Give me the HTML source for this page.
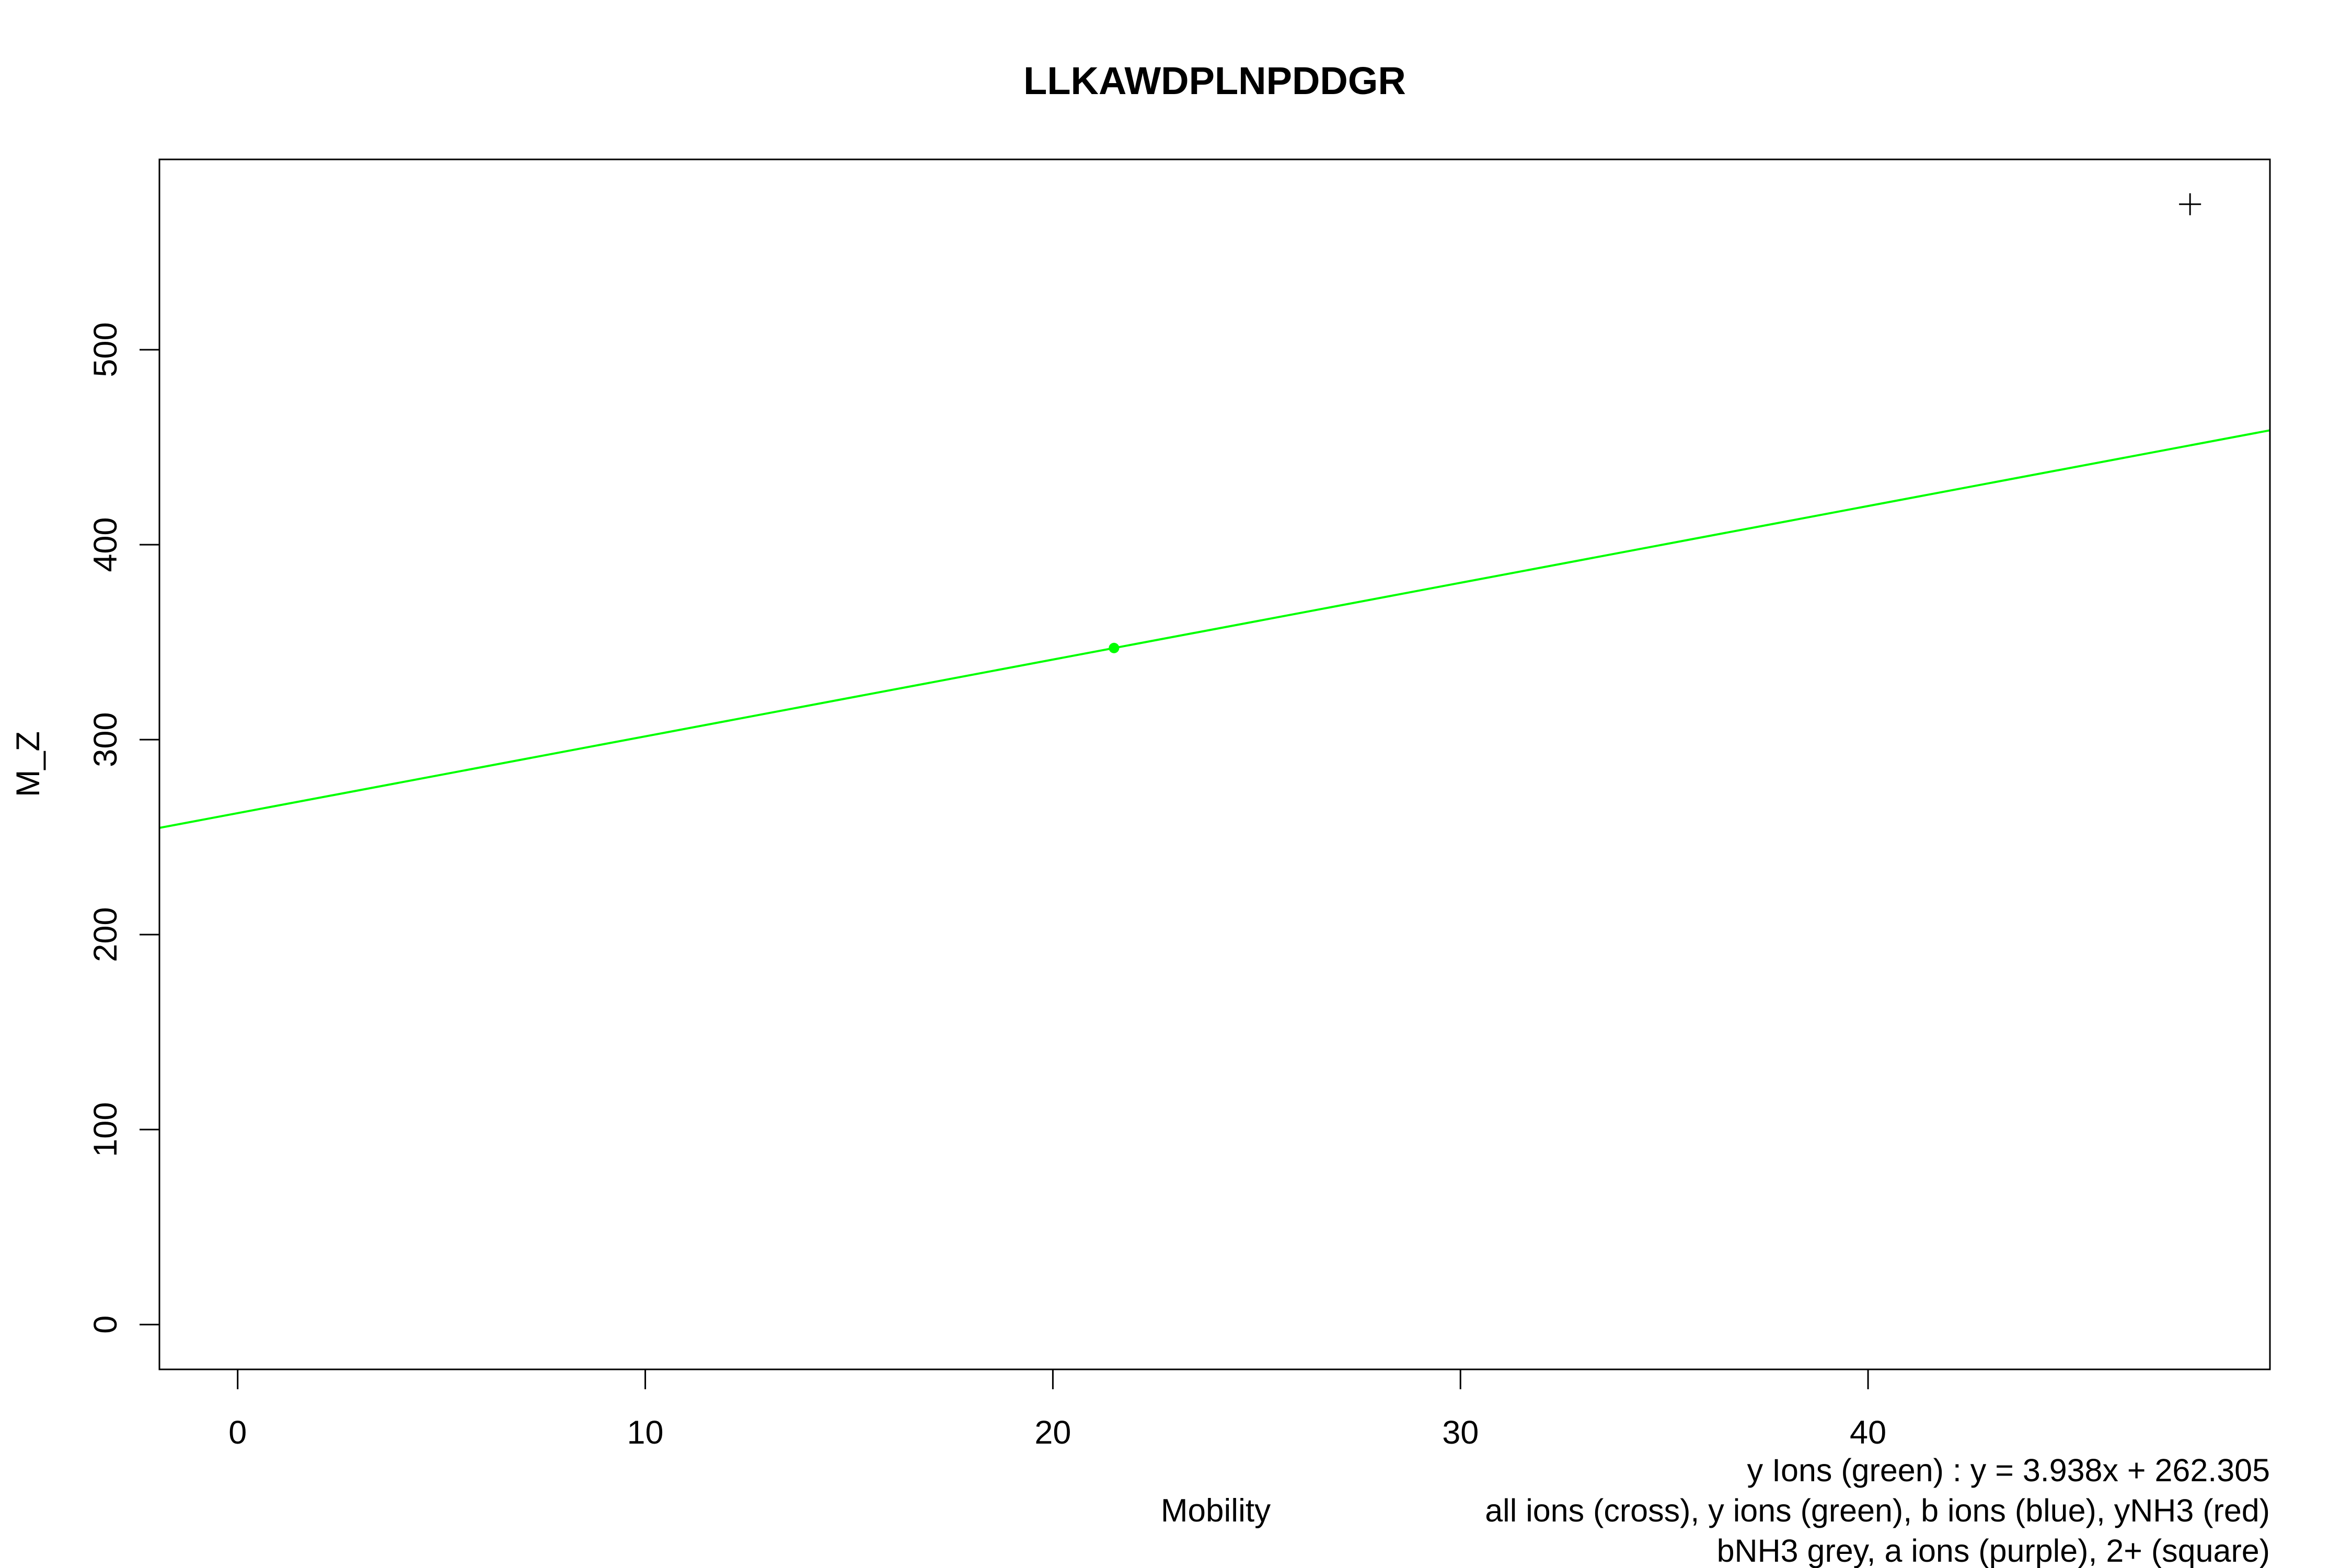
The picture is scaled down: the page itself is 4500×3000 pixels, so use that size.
<!DOCTYPE html>
<html><head><meta charset="utf-8"><style>
html,body{margin:0;padding:0;background:#fff;}
svg{display:block;font-family:"Liberation Sans",Arial,sans-serif;}
</style></head><body>
<svg id="chart" width="4500" height="3000" viewBox="0 0 4500 3000" xmlns="http://www.w3.org/2000/svg">
<rect width="4500" height="3000" fill="#fff"/>
<text x="2324" y="180" text-anchor="middle" font-size="74" font-weight="bold">LLKAWDPLNPDDGR</text>
<g id="marks"></g>
<rect x="305" y="305" width="4038" height="2315" fill="none" stroke="#000" stroke-width="3"/>
<g id="xaxis"></g>
<g id="yaxis"></g>
<text x="2326" y="2911" text-anchor="middle" font-size="62">Mobility</text>
<text transform="translate(75,1462) rotate(-90)" text-anchor="middle" font-size="63">M_Z</text>
<text x="4343" y="2834" text-anchor="end" font-size="61">y Ions (green) : y = 3.938x + 262.305</text>
<text x="4343" y="2911" text-anchor="end" font-size="61">all ions (cross), y ions (green), b ions (blue), yNH3 (red)</text>
<text x="4343" y="2988" text-anchor="end" font-size="61">bNH3 grey, a ions (purple), 2+ (square)</text>
</svg>
<script>
const xTicks = [0, 10, 20, 30, 40];
const yTicks = [0, 100, 200, 300, 400, 500];
const allIonsX = [47.9];
const allIonsY = [574.6];
const yIonsX = [21.5];
const yIonsY = [347.0];
const fitSlope = [3.938];
const fitIntercept = [262.305];
const xDomain = [-1.92, 49.86];
const yDomain = [-23, 597.6];

const L = 305, R = 4343, T = 305, B = 2620;
const NS = 'http://www.w3.org/2000/svg';
function sx(v){ return L + (v - xDomain[0]) / (xDomain[1] - xDomain[0]) * (R - L); }
function sy(v){ return B - (v - yDomain[0]) / (yDomain[1] - yDomain[0]) * (B - T); }
function mk(tag, attrs, parent){ const e = document.createElementNS(NS, tag); for (const k in attrs) e.setAttribute(k, attrs[k]); parent.appendChild(e); return e; }

const marks = document.getElementById('marks');
const xa = document.getElementById('xaxis');
const ya = document.getElementById('yaxis');

mk('line', {x1: sx(xTicks[0]), x2: sx(xTicks[xTicks.length-1]), y1: B, y2: B, stroke: '#000', 'stroke-width': 3}, xa);
xTicks.forEach(t => {
  const l = mk('line', {x1: sx(t), x2: sx(t), y1: B, y2: B + 38, stroke: '#000', 'stroke-width': 3}, xa);
  
  
  const tx = mk('text', {x: sx(t), y: B + 142, 'text-anchor': 'middle', 'font-size': 63}, xa);
  tx.textContent = t;
  
  
});
mk('line', {x1: L, x2: L, y1: sy(yTicks[0]), y2: sy(yTicks[yTicks.length-1]), stroke: '#000', 'stroke-width': 3}, ya);
yTicks.forEach(t => {
  const l = mk('line', {x1: L - 38, x2: L, y1: sy(t), y2: sy(t), stroke: '#000', 'stroke-width': 3}, ya);
  
  
  const tx = mk('text', {transform: 'translate(223,' + sy(t) + ') rotate(-90)', 'text-anchor': 'middle', 'font-size': 63}, ya);
  tx.textContent = t;
  
  
});
const m = fitSlope[0], c = fitIntercept[0];
const fl = mk('line', {x1: sx(xDomain[0]), y1: sy(m * xDomain[0] + c), x2: sx(xDomain[1]), y2: sy(m * xDomain[1] + c), stroke: '#00ff00', 'stroke-width': 4}, marks);


yIonsX.forEach((x, i) => {
  const p = mk('circle', {cx: sx(x), cy: sy(yIonsY[i]), r: 10, fill: '#00ff00'}, marks);
  
  
});
allIonsX.forEach((x, i) => {
  const g = mk('g', {}, marks);
  
  
  const cx = sx(x), cy = sy(allIonsY[i]);
  mk('line', {x1: cx - 21, x2: cx + 21, y1: cy, y2: cy, stroke: '#000', 'stroke-width': 3}, g);
  mk('line', {x1: cx, x2: cx, y1: cy - 21, y2: cy + 21, stroke: '#000', 'stroke-width': 3}, g);
});
</script>
</body></html>
